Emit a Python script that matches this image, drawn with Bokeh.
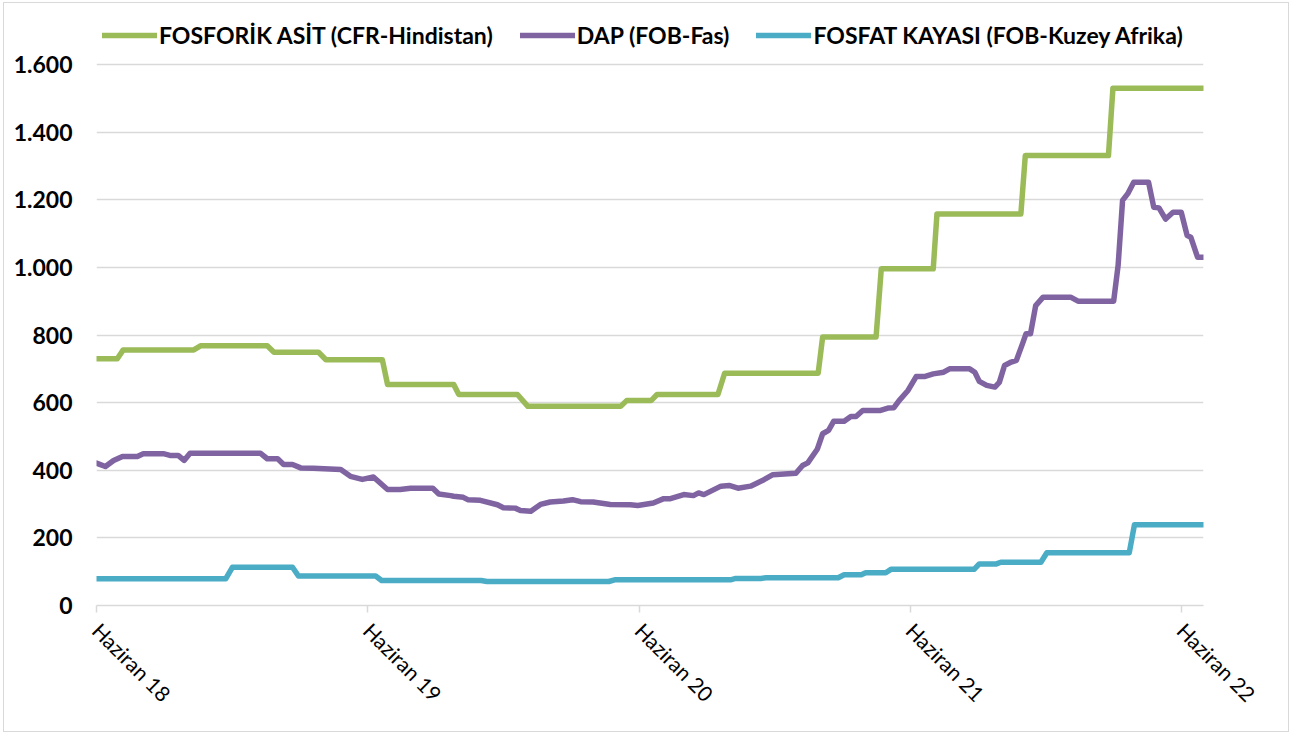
import pandas as pd
from bokeh.plotting import figure
from bokeh.models import FixedTicker, Legend, LegendItem, Range1d
from bokeh.embed import file_html
from bokeh.resources import INLINE

# ---- data ----
asit_dates = ["2018-06-01", "2018-06-29", "2018-07-07", "2018-10-10", "2018-10-19",
              "2019-01-17", "2019-01-26", "2019-03-27", "2019-04-06", "2019-06-21",
              "2019-06-28", "2019-09-25", "2019-10-02", "2019-12-20", "2020-01-03",
              "2020-05-07", "2020-05-15", "2020-06-17", "2020-06-25", "2020-09-15",
              "2020-09-24", "2021-01-28", "2021-02-03", "2021-04-16", "2021-04-23",
              "2021-07-02", "2021-07-07", "2021-10-28", "2021-11-03", "2022-02-23",
              "2022-03-01", "2022-07-01"]
asit_values = [730, 730, 756, 756, 768, 768, 749, 749, 727, 727, 654, 654, 624, 624, 589,
               589, 606, 606, 624, 624, 687, 687, 794, 794, 996, 996, 1158, 1158, 1331, 1331,
               1530, 1530]

dap_dates = ["2018-06-01", "2018-06-13", "2018-06-24", "2018-07-06", "2018-07-26", "2018-08-03",
             "2018-08-30", "2018-09-08", "2018-09-19", "2018-09-27", "2018-10-05", "2019-01-08",
             "2019-01-17", "2019-01-31", "2019-02-08", "2019-02-20", "2019-03-03", "2019-03-20",
             "2019-04-26", "2019-05-09", "2019-05-25", "2019-06-09", "2019-06-28", "2019-07-15",
             "2019-07-29", "2019-08-28", "2019-09-05", "2019-09-21", "2019-09-25", "2019-10-08",
             "2019-10-14", "2019-10-31", "2019-11-23", "2019-12-01", "2019-12-17", "2019-12-24",
             "2020-01-07", "2020-01-20", "2020-02-02", "2020-02-20", "2020-03-03", "2020-03-14",
             "2020-03-31", "2020-04-23", "2020-05-20", "2020-05-30", "2020-06-20", "2020-07-04",
             "2020-07-13", "2020-07-31", "2020-08-13", "2020-08-20", "2020-08-27", "2020-09-19",
             "2020-09-30", "2020-10-12", "2020-10-29", "2020-11-16", "2020-11-28", "2020-12-29",
             "2021-01-07", "2021-01-14", "2021-01-27", "2021-02-03", "2021-02-11", "2021-02-18",
             "2021-03-04", "2021-03-13", "2021-03-20", "2021-03-29", "2021-04-22", "2021-05-02",
             "2021-05-10", "2021-05-17", "2021-05-29", "2021-06-09", "2021-06-20", "2021-07-02",
             "2021-07-16", "2021-07-24", "2021-08-20", "2021-08-27", "2021-09-02", "2021-09-12",
             "2021-09-23", "2021-09-29", "2021-10-06", "2021-10-15", "2021-10-22", "2021-10-31",
             "2021-11-04", "2021-11-10", "2021-11-17", "2021-11-27", "2022-01-03", "2022-01-13",
             "2022-03-02", "2022-03-08", "2022-03-14", "2022-03-21", "2022-03-29", "2022-04-18",
             "2022-04-25", "2022-05-02", "2022-05-11", "2022-05-21", "2022-06-01", "2022-06-09",
             "2022-06-14", "2022-06-23", "2022-07-01"]
dap_values = [421, 411, 429, 441, 441, 449, 449, 444, 444, 429, 450, 450,
              434, 434, 417, 417, 407, 406, 402, 382, 373, 380, 343, 343,
              347, 347, 330, 325, 323, 320, 313, 311, 298, 289, 288, 281,
              279, 299, 306, 309, 313, 307, 306, 299, 298, 296, 303, 316,
              316, 328, 325, 333, 328, 353, 355, 347, 353, 372, 387, 391,
              414, 422, 463, 508, 518, 545, 545, 559, 559, 577, 577, 584,
              585, 606, 636, 677, 677, 685, 690, 700, 700, 690, 663, 651,
              646, 660, 710, 720, 725, 779, 804, 804, 887, 912, 912, 900,
              900, 1006, 1198, 1218, 1252, 1252, 1178, 1176, 1143, 1163, 1163, 1094,
              1089, 1030, 1030]

kaya_dates = ["2018-06-01", "2018-11-22", "2018-12-01", "2019-02-20", "2019-02-28",
              "2019-06-12", "2019-06-20", "2019-11-01", "2019-11-09", "2020-04-21",
              "2020-04-29", "2020-10-02", "2020-10-09", "2020-11-12", "2020-11-19",
              "2021-02-24", "2021-03-04", "2021-03-27", "2021-04-02", "2021-04-29",
              "2021-05-06", "2021-08-26", "2021-09-02", "2021-09-25", "2021-10-01",
              "2021-11-24", "2021-12-02", "2022-03-23", "2022-03-30", "2022-07-01"]
kaya_values = [79, 79, 113, 113, 87, 87, 74, 74, 71, 71, 76, 76, 80, 80, 82,
               82, 91, 91, 97, 97, 107, 107, 123, 123, 128, 128, 156, 156, 239, 239]

series_names = ["FOSFORİK ASİT (CFR-Hindistan)", "DAP (FOB-Fas)", "FOSFAT KAYASI (FOB-Kuzey Afrika)"]
series_colors = ["#9BBB59", "#8064A2", "#4BACC6"]

x_tick_dates = ["2018-06-01", "2019-06-01", "2020-06-01", "2021-06-01", "2022-06-01"]
x_tick_labels = ["Haziran 18", "Haziran 19", "Haziran 20", "Haziran 21", "Haziran 22"]
y_ticks = [0, 200, 400, 600, 800, 1000, 1200, 1400, 1600]
y_tick_labels = ["0", "200", "400", "600", "800", "1.000", "1.200", "1.400", "1.600"]

# ---- figure ----
FONT = "Lato"
# the frame extends above 1.600 to make room for the legend inside it
p = figure(width=1286, height=730, x_axis_type="datetime",
           x_range=Range1d(pd.Timestamp("2018-06-01"), pd.Timestamp("2022-07-01")),
           y_range=Range1d(0, 1745),
           output_backend="svg", toolbar_location=None,
           min_border_left=92, min_border_right=87, min_border_top=12, min_border_bottom=128)
p.styles = {"margin-left": "3px", "margin-top": "2px", "border": "1px solid #D9D9D9"}
p.outline_line_color = None
p.background_fill_color = "white"
p.border_fill_color = "white"

renderers = []
for d, v, c in [(asit_dates, asit_values, series_colors[0]),
                (dap_dates, dap_values, series_colors[1]),
                (kaya_dates, kaya_values, series_colors[2])]:
    r = p.line(pd.to_datetime(d), v, line_color=c, line_width=5.5,
               line_join="round", line_cap="round")
    renderers.append(r)

# x axis
xt = [pd.Timestamp(s).value / 1e6 for s in x_tick_dates]
p.xaxis.ticker = FixedTicker(ticks=xt)
p.xaxis.major_label_overrides = {t: lab for t, lab in zip(xt, x_tick_labels)}
p.xaxis.major_label_orientation = -0.785398
p.xaxis.axis_line_color = "#D9D9D9"
p.xaxis.axis_line_width = 1.5
p.xaxis.major_tick_line_color = "#D9D9D9"
p.xaxis.major_tick_line_width = 1.5
p.xaxis.major_tick_out = 7
p.xaxis.major_tick_in = 0
p.xaxis.minor_tick_line_color = None
p.xaxis.major_label_text_font = FONT
p.xaxis.major_label_text_font_size = "21px"
p.xaxis.major_label_text_color = "black"
p.xaxis.major_label_standoff = 14
p.xgrid.grid_line_color = None

# y axis
p.yaxis.ticker = FixedTicker(ticks=y_ticks)
p.yaxis.major_label_overrides = {t: lab for t, lab in zip(y_ticks, y_tick_labels)}
p.yaxis.axis_line_color = None
p.yaxis.major_tick_line_color = None
p.yaxis.minor_tick_line_color = None
p.yaxis.major_label_text_font = FONT
p.yaxis.major_label_text_font_size = "23px"
p.yaxis.major_label_text_font_style = "bold"
p.yaxis.major_label_text_color = "black"
p.yaxis.major_label_standoff = 18
p.ygrid.ticker = FixedTicker(ticks=y_ticks)
p.ygrid.grid_line_color = "#D9D9D9"
p.ygrid.grid_line_width = 1.5

legend = Legend(items=[LegendItem(label=n, renderers=[r]) for n, r in zip(series_names, renderers)],
                orientation="horizontal", location=(6, 556),
                glyph_width=55, glyph_height=24, label_standoff=2, spacing=27,
                padding=0, margin=0, border_line_color=None, background_fill_alpha=0,
                label_text_font=FONT, label_text_font_style="bold",
                label_text_font_size="23px", label_text_color="black")
p.add_layout(legend)

open("out.html", "w").write(file_html(p, INLINE))
